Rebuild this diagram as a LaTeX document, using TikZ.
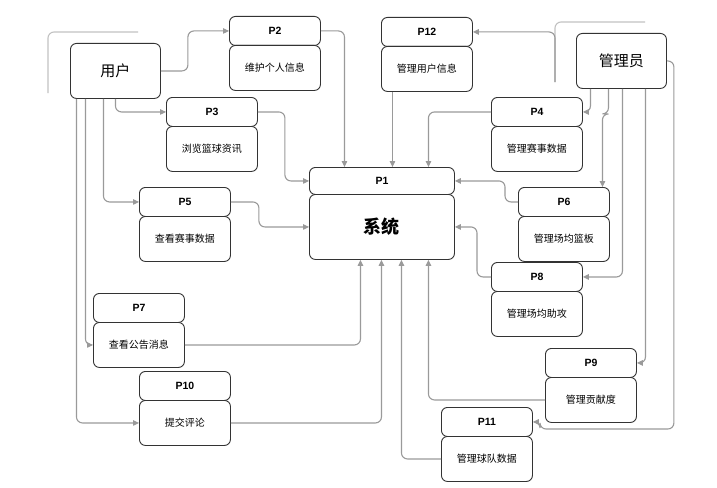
\documentclass[tikz,border=0pt]{standalone}
\usepackage{fontspec}
\setmainfont{Liberation Sans}
\newfontfamily\cjk{Noto Sans CJK SC}
\usetikzlibrary{arrows.meta}
\definecolor{edge}{HTML}{333333}
\definecolor{conncol}{HTML}{9A9A9A}
\definecolor{framecol}{HTML}{C2C2C2}
\tikzset{
  x=1pt, y=-1pt,
  boxbase/.style={draw=edge, line width=0.9pt, rounded corners=6pt, fill=white, anchor=north west, inner sep=0pt, minimum width=91pt},
  hdr/.style={boxbase, minimum height=29pt, font=\fontsize{10.5}{12}\selectfont\bfseries},
  bdy/.style={boxbase, minimum height=45pt, font=\cjk\fontsize{10}{12}\selectfont},
  actor/.style={boxbase, minimum width=90pt, minimum height=55pt, font=\cjk\fontsize{15}{17}\selectfont},
  conn/.style={draw=conncol, line width=1.1pt, rounded corners=6pt, -{Triangle[length=6pt,width=5.5pt]}},
  framel/.style={draw=framecol, line width=1.1pt, rounded corners=6pt},
}
\newcommand{\proc}[5]{%
  \node[hdr] (#1h) at (#2,#3) {#4};
  \node[bdy] (#1b) at (#2,#3+29) {#5};
}
\begin{document}
\begin{tikzpicture}
\useasboundingbox[fill=white] (0,0) rectangle (717,487);

% frame lines
\draw[framel] (138,32) -- (48,32) -- (48,93);
\draw[framel] (645,22) -- (555,22) -- (555,82);

% actors
\node[actor] (user) at (70,43) {用户};
\node[actor] (admin) at (576,33) {管理员};

% P1
\node[boxbase, minimum width=145pt, minimum height=27pt, font=\fontsize{10.5}{12}\selectfont\bfseries] (p1h) at (309,167) {P1};
\node[boxbase, minimum width=145pt, minimum height=65pt, font=\cjk\fontsize{18}{20}\selectfont\bfseries] (p1b) at (309,194) {系统};

% processes
\proc{p2}{229}{16}{P2}{维护个人信息}
\proc{p12}{381}{17}{P12}{管理用户信息}
\proc{p3}{166}{97}{P3}{浏览篮球资讯}
\proc{p4}{491}{97}{P4}{管理赛事数据}
\proc{p5}{139}{187}{P5}{查看赛事数据}
\proc{p6}{518}{187}{P6}{管理场均篮板}
\proc{p7}{93}{293}{P7}{查看公告消息}
\proc{p8}{491}{262}{P8}{管理场均助攻}
\proc{p9}{545}{348}{P9}{管理贡献度}
\proc{p10}{139}{371}{P10}{提交评论}
\proc{p11}{441}{407}{P11}{管理球队数据}

\coordinate (k1) at (540,429);
\coordinate (k2) at (555,82);

% user connectors
\draw[conn] (user.east) -- ++(27,0) |- (p2h.west);
\draw[conn] (user.south) |- (p3h.west);
\draw[conn] ([xshift=-12pt]user.south) |- (p5h.west);
\draw[conn] ([xshift=-30pt]user.south) |- (p7b.west);
\draw[conn] ([xshift=-39pt]user.south) |- (p10b.west);

% into P1
\draw[conn] (p2h.east) -| ([xshift=-37.5pt]p1h.north);
\draw[conn] (p3h.east) -- ++(27,0) |- (p1h.west);
\draw[conn] (p5h.east) -- ++(28,0) |- (p1b.west);
\draw[conn] ([xshift=-34.5pt]p12b.south) -- ([xshift=-34.5pt]p12b.south |- p1h.north);
\draw[conn] (p4h.west) -| ([xshift=46.5pt]p1h.north);
\draw[conn] (p6h.west) -- ++(-13,0) |- (p1h.east);
\draw[conn] (p8h.west) -- ++(-14,0) |- (p1b.east);
\draw[conn] (p7b.east) -| ([xshift=-21.5pt]p1b.south);
\draw[conn] (p10b.east) -| ([xshift=-0.5pt]p1b.south);
\draw[conn] (p11b.west) -| ([xshift=19.5pt]p1b.south);
\draw[conn] (p9b.west) -| ([xshift=46.5pt]p1b.south);

% admin connectors
\draw[conn] ([xshift=-31pt]admin.south) |- (p4h.east);
\draw[conn] ([xshift=-13pt]admin.south) -- ++(0,25) -| ([xshift=38.5pt]p6h.north);
\draw[conn] ([xshift=1pt]admin.south) |- (p8h.east);
\draw[conn] ([xshift=24pt]admin.south) |- (p9h.east);
\draw[conn] (admin.east) -- ++(7,0) |- (k1) |- (p11h.east);
\draw[conn] (k2) |- (p12h.east);
\end{tikzpicture}
\end{document}
